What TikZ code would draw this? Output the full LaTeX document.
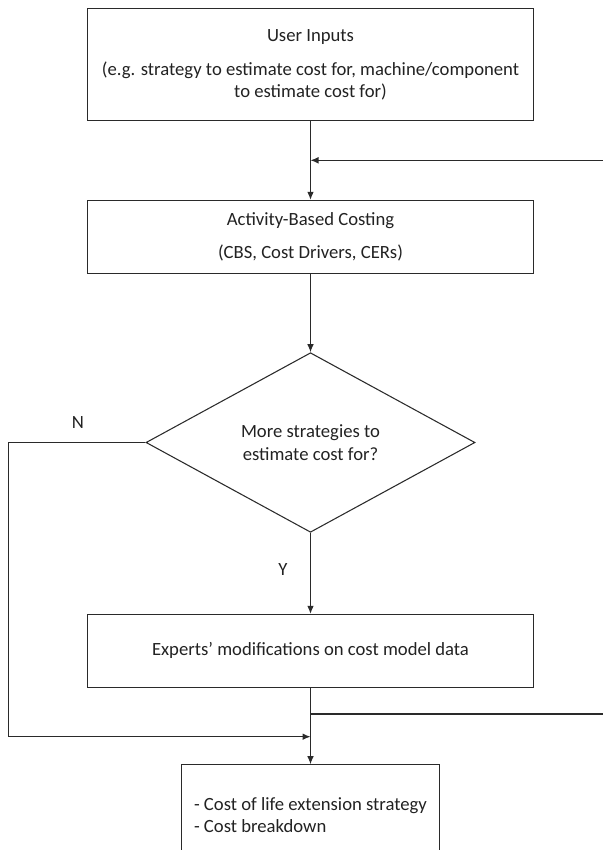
\documentclass[tikz,border=0pt]{standalone}
\usepackage{fontspec}
\setmainfont{Carlito}
\usetikzlibrary{arrows.meta,shapes.geometric}
\definecolor{linec}{HTML}{2A2A2A}
\definecolor{textc}{HTML}{222222}
\begin{document}
\begin{tikzpicture}[x=0.75pt,y=-0.75pt,
  every node/.style={text=textc, font=\fontsize{14}{16.5}\selectfont},
  box/.style={draw=linec, line width=0.8pt, rectangle, inner sep=0pt, align=center},
  decision/.style={draw=linec, line width=0.8pt, diamond, aspect=1.83, inner sep=0pt,
    align=center, minimum width=246.75pt, minimum height=134.7pt,
    font=\fontsize{14}{17.5}\selectfont},
  conn/.style={draw=linec, line width=0.8pt},
  arr/.style={conn, -{Latex[length=6pt,width=5pt]}}]
\useasboundingbox (0,0) rectangle (603,850);

% process boxes
\node[box, minimum width=334.5pt, minimum height=84pt] (in) at (310.5,64.7)
  {User Inputs\\[9.5pt](e.g. strategy to estimate cost for, machine/component\\to estimate cost for)};
\node[box, minimum width=334.5pt, minimum height=54.75pt] (abc) at (310.5,236.8)
  {Activity-Based Costing\\[8pt](CBS, Cost Drivers, CERs)};
\node[decision] (dec) at (310.5,442.5) {More strategies to\\estimate cost for?};
\node[box, minimum width=334.5pt, minimum height=54.75pt] (exp) at (310.5,650.8)
  {Experts’ modifications on cost model data};
% result box runs past the lower edge of the page
\node[box, minimum width=193.5pt, minimum height=75pt, align=left] (out) at (310.5,814.7)
  {- Cost of life extension strategy\\- Cost breakdown};

% branch labels
\node (lblN) at (78,422.7) {N};
\node (lblY) at (283,569.3) {Y};

% helper points at the picture edges
\coordinate (fbin) at (603,160.3);
\coordinate (fbout) at (603,714);
\coordinate (nturn) at (8.5,736.7);

% connectors
\draw[arr] (in.south) -- (abc.north);
\draw[arr] (fbin) -- (fbin -| in.south);
\draw[arr] (abc.south) -- (dec.north);
\draw[arr] (dec.south) -- (exp.north);
\draw[arr] (exp.south) -- (out.north);
\draw[conn] (fbout -| exp.south) -- (fbout);
\draw[arr] (dec.west) -| (nturn) -- (nturn -| exp.south);
\end{tikzpicture}
\end{document}
